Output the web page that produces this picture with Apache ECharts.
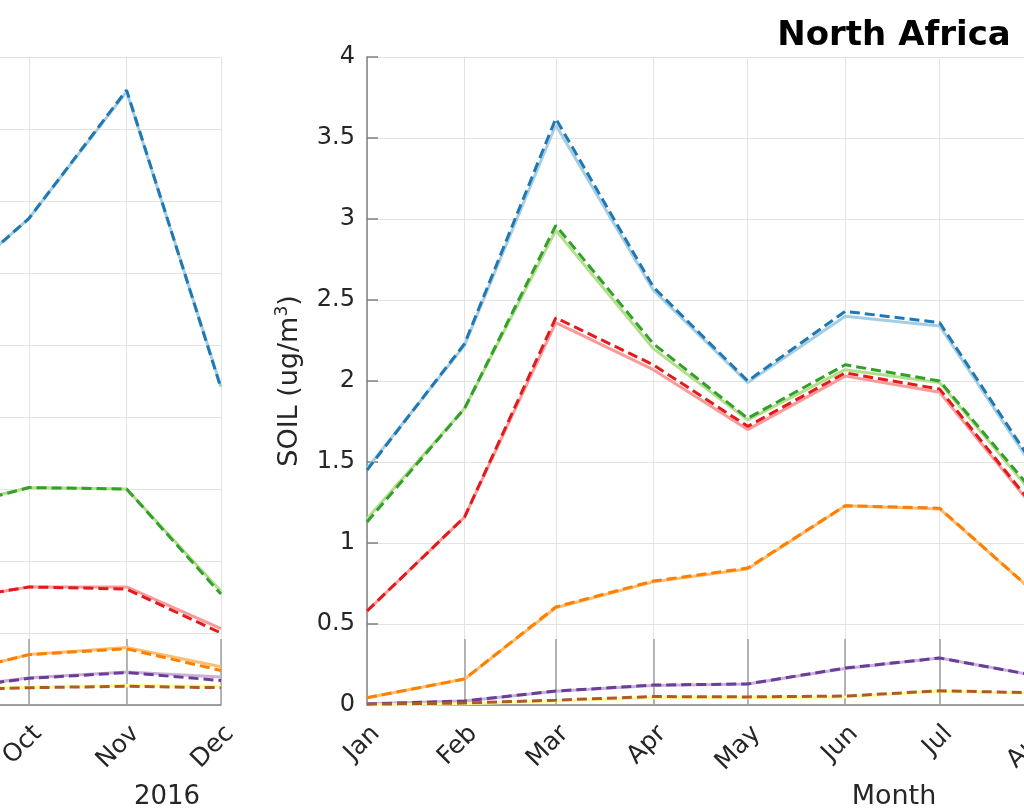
<!DOCTYPE html>
<html>
<head>
<meta charset="utf-8">
<script src="https://cdn.jsdelivr.net/npm/echarts@6/dist/echarts.min.js"></script>
<style>
  html, body { margin: 0; padding: 0; background: #fff; }
  #chart { width: 1024px; height: 812px; }
</style>
</head>
<body>
<div id="chart"></div>
<script>
const monthNames = ["Jan", "Feb", "Mar", "Apr", "May", "Jun", "Jul", "Aug", "Sep", "Oct", "Nov", "Dec"];

// left panel (2016), only Sep-Dec visible
const leftMonths = [8, 9, 10, 11];
const leftBlueSolid = [2.8, 3.38, 4.26, 2.21];
const leftBlueDash = [2.8, 3.38, 4.27, 2.2];
const leftGreenSolid = [1.35, 1.51, 1.5, 0.79];
const leftGreenDash = [1.34, 1.51, 1.5, 0.77];
const leftRedSolid = [0.71, 0.82, 0.82, 0.53];
const leftRedDash = [0.71, 0.82, 0.805, 0.5];
const leftOrangeSolid = [0.19, 0.35, 0.4, 0.265];
const leftOrangeDash = [0.19, 0.35, 0.39, 0.24];
const leftPurpleSolid = [0.1, 0.19, 0.23, 0.195];
const leftPurpleDash = [0.1, 0.185, 0.225, 0.17];
const leftYellowSolid = [0.1, 0.125, 0.135, 0.13];
const leftBrownDash = [0.1, 0.12, 0.13, 0.12];

// right panel (North Africa), Jan-Aug visible
const rightMonths = [0, 1, 2, 3, 4, 5, 6, 7];
const rightBlueSolid = [1.46, 2.22, 3.58, 2.56, 1.99, 2.4, 2.34, 1.43];
const rightBlueDash = [1.45, 2.23, 3.62, 2.58, 2.0, 2.43, 2.36, 1.45];
const rightGreenSolid = [1.15, 1.83, 2.93, 2.2, 1.76, 2.07, 1.99, 1.27];
const rightGreenDash = [1.13, 1.83, 2.96, 2.23, 1.77, 2.1, 2.0, 1.29];
const rightRedSolid = [0.58, 1.16, 2.36, 2.07, 1.7, 2.03, 1.93, 1.19];
const rightRedDash = [0.58, 1.16, 2.39, 2.1, 1.72, 2.05, 1.95, 1.2];
const rightOrangeSolid = [0.045, 0.16, 0.6, 0.76, 0.84, 1.23, 1.21, 0.68];
const rightOrangeDash = [0.045, 0.16, 0.605, 0.765, 0.845, 1.23, 1.215, 0.68];
const rightPurpleSolid = [0.008, 0.025, 0.085, 0.12, 0.13, 0.225, 0.29, 0.18];
const rightPurpleDash = [0.006, 0.025, 0.086, 0.123, 0.13, 0.228, 0.29, 0.18];
const rightYellowSolid = [0.0, 0.008, 0.025, 0.045, 0.045, 0.05, 0.085, 0.07];
const rightBrownDash = [0.005, 0.012, 0.03, 0.052, 0.05, 0.055, 0.088, 0.075];

const yearStart = Date.UTC(2016, 0, 1);
const yearEnd = Date.UTC(2016, 11, 1);
const DAY = 86400000;

const pairs = (months, vals) => months.map((m, i) => [Date.UTC(2016, m, 1), vals[i]]);

const textColor = "#262626";
const gridColor = "#e3e3e3";

const makeXAxis = (gridIndex, name) => ({
  type: "time",
  gridIndex,
  min: yearStart,
  max: yearEnd,
  minInterval: 28 * DAY,
  maxInterval: 31 * DAY,
  name,
  nameLocation: "middle",
  nameGap: 78,
  nameTextStyle: { fontSize: 27, color: textColor, fontFamily: "DejaVu Sans" },
  axisLine: { show: true, lineStyle: { color: "#808080", width: 1.5 } },
  axisTick: { show: true, inside: true, length: 66, lineStyle: { color: "#a0a0a0", width: 1.5 } },
  axisLabel: {
    rotate: 45,
    margin: 16,
    fontSize: 25,
    color: textColor,
    fontFamily: "DejaVu Sans",
    verticalAlign: "top",
    hideOverlap: false,
    showMinLabel: true,
    showMaxLabel: true,
    formatter: (v) => monthNames[new Date(v).getUTCMonth()],
  },
  splitLine: { show: true, lineStyle: { color: gridColor, width: 1 } },
});

const makeYAxis = (gridIndex, max, interval, name) => ({
  type: "value",
  gridIndex,
  min: 0,
  max,
  interval,
  name,
  nameLocation: "middle",
  nameGap: 62,
  nameTextStyle: {
    fontSize: 27,
    color: textColor,
    fontFamily: "DejaVu Sans",
    rich: { sup: { fontSize: 17, verticalAlign: "top", color: textColor, fontFamily: "DejaVu Sans", padding: [0, 0, 14, 0] } },
  },
  axisLine: { show: true, lineStyle: { color: "#808080", width: 1.5 } },
  axisTick: { show: true, inside: true, length: 11, lineStyle: { color: "#808080", width: 1.5 } },
  axisLabel: { fontSize: 24, color: textColor, margin: 12, fontFamily: "DejaVu Sans" },
  splitLine: { show: true, lineStyle: { color: gridColor, width: 1 } },
});

const styles = [
  { light: "#a6cee3", dark: "#1f78b4" },
  { light: "#b2df8a", dark: "#33a02c" },
  { light: "#fb9a99", dark: "#e31a1c" },
  { light: "#fdbf6f", dark: "#ff7f00" },
  { light: "#cab2d6", dark: "#6a3d9a" },
  { light: "#ffff99", dark: "#b15928" },
];

const leftSets = [
  [leftBlueSolid, leftBlueDash],
  [leftGreenSolid, leftGreenDash],
  [leftRedSolid, leftRedDash],
  [leftOrangeSolid, leftOrangeDash],
  [leftPurpleSolid, leftPurpleDash],
  [leftYellowSolid, leftBrownDash],
];
const rightSets = [
  [rightBlueSolid, rightBlueDash],
  [rightGreenSolid, rightGreenDash],
  [rightRedSolid, rightRedDash],
  [rightOrangeSolid, rightOrangeDash],
  [rightPurpleSolid, rightPurpleDash],
  [rightYellowSolid, rightBrownDash],
];

const series = [];
const addSeries = (sets, months, idx) => {
  sets.forEach(([solid, dash], k) => {
    series.push({
      type: "line",
      xAxisIndex: idx,
      yAxisIndex: idx,
      data: pairs(months, solid),
      showSymbol: false,
      lineStyle: { color: styles[k].light, width: 3 },
      silent: true,
    });
    series.push({
      type: "line",
      xAxisIndex: idx,
      yAxisIndex: idx,
      data: pairs(months, dash),
      showSymbol: false,
      lineStyle: { color: styles[k].dark, width: 3, type: [10, 5] },
      silent: true,
    });
  });
};
addSeries(leftSets, leftMonths, 0);
addSeries(rightSets, rightMonths, 1);

const chart = echarts.init(document.getElementById("chart"));
chart.setOption({
  useUTC: true,
  animation: false,
  title: [
    {
      text: "North Africa",
      left: 889,
      top: 14,
      textAlign: "center",
      textStyle: { fontSize: 34, fontWeight: "bold", color: "#000", fontFamily: "DejaVu Sans" },
    },
    {
      text: "2016",
      left: 162,
      top: 779,
      textAlign: "center",
      textStyle: { fontSize: 26, fontWeight: "normal", color: textColor, fontFamily: "DejaVu Sans" },
    },
  ],
  grid: [
    { left: -833, top: 57, width: 1054, height: 648, containLabel: false, outerBoundsMode: "none" },
    { left: 367, top: 57, width: 1054, height: 648, containLabel: false, outerBoundsMode: "none" },
  ],
  xAxis: [makeXAxis(0, ""), makeXAxis(1, "Month")],
  yAxis: [makeYAxis(0, 4.5, 0.5, ""), makeYAxis(1, 4, 0.5, "SOIL (ug/m{sup|3})")],
  series,
});

window.addEventListener("resize", () => {
  chart.resize();
});
</script>
</body>
</html>
